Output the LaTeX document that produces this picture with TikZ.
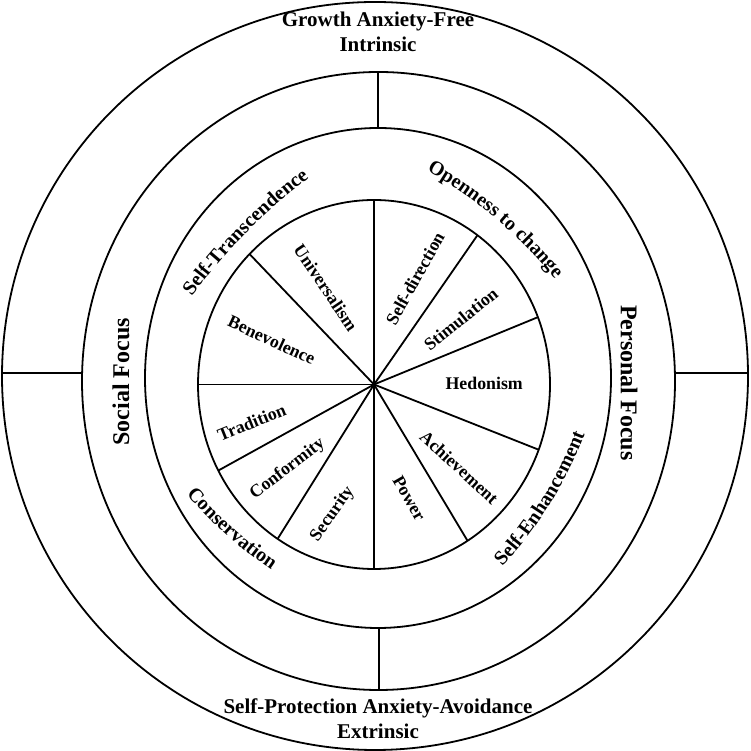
\documentclass[tikz,border=0pt]{standalone}
\usepackage{fontspec}
\setmainfont{Liberation Serif}
\usetikzlibrary{decorations.text,calc}
\newcommand\midfnt{\fontsize{20}{23}\selectfont\bfseries}
\begin{document}
\begin{tikzpicture}[x=1pt,y=1pt,
  ringline/.style={line width=1.8pt},
  inlab/.style={font=\fontsize{17.8}{20}\selectfont\bfseries, inner sep=0pt},
  outlab/.style={font=\fontsize{21}{24.5}\selectfont\bfseries, inner sep=0pt, align=center},
  focuslab/.style={font=\fontsize{24}{27}\selectfont\bfseries, inner sep=0pt},
  arclab/.style={decorate, decoration={text along path, text align=center, text={|\midfnt|#1}}}
]
\useasboundingbox (0,0) rectangle (750,751);
% rings
\draw[ringline] (375,375) ellipse [x radius=373, y radius=374];
\draw[ringline] (378.5,370) ellipse [x radius=296.5, y radius=309];
\draw[ringline] (378,373) ellipse [x radius=233, y radius=250];
\draw[ringline] (374,366.5) ellipse [x radius=176, y radius=184.5];
% dividers
\coordinate (dt1) at (378,679); \coordinate (dt2) at (378,623);
\coordinate (db1) at (379,61);  \coordinate (db2) at (379,123);
\coordinate (dl1) at (2,378);   \coordinate (dl2) at (82,378);
\coordinate (dr1) at (675,378); \coordinate (dr2) at (748,378);
\draw[ringline] (dt1) -- (dt2);
\draw[ringline] (db1) -- (db2);
\draw[ringline] (dl1) -- (dl2);
\draw[ringline] (dr1) -- (dr2);
% sectors
\coordinate (C) at (374,366.5);
\foreach \t in {90,54,21.4,-20.7,-57.9,-90,-123.2,-152.2,180,135}
  \draw[ringline] (C) -- ($(C)+({176*cos(\t)},{184.5*sin(\t)})$);
% inner labels
\node[inlab, rotate=-56]   (univ) at (325.8,463.5) {Universalism};
\node[inlab, rotate=-24.8] (bene) at (271.7,411) {Benevolence};
\node[inlab, rotate=61]    (sdir) at (415,472.7) {Self-direction};
\node[inlab, rotate=39]    (stim) at (460.8,431.8) {Stimulation};
\node[inlab]               (hedo) at (484.2,367.7) {Hedonism};
\node[inlab, rotate=-42.4] (achi) at (459.2,283.5) {Achievement};
\node[inlab, rotate=-60]   (powr) at (409.2,252.7) {Power};
\node[inlab, rotate=55]    (secu) at (332.5,236.8) {Security};
\node[inlab, rotate=37.5]  (conf) at (287.5,281.8) {Conformity};
\node[inlab, rotate=22]    (trad) at (251.7,328.5) {Tradition};
% middle ring labels (baseline midpoints)
\coordinate (bOpen) at (496,532);
\coordinate (bTran) at (246,518);
\coordinate (bEnh)  at (549.8,246.6);
\coordinate (bCons) at (226.4,216);
\path[arclab={Openness to change}]
  ($(bOpen)+({49.8+180}:450)+({49.8+14}:450)$) arc[start angle={49.8+14}, end angle={49.8-14}, radius=450];
\path[arclab={Self-Transcendence}]
  ($(bTran)+({135.4+180}:550)+({135.4+12}:550)$) arc[start angle={135.4+12}, end angle={135.4-12}, radius=550];
\path[arclab={Self-Enhancement}]
  ($(bEnh)+({-32+180}:420)+({-32-15}:420)$) arc[start angle={-32-15}, end angle={-32+15}, radius=420];
\path[arclab={Conservation}]
  ($(bCons)+({-131.8+180}:430)+({-131.8-15}:430)$) arc[start angle={-131.8-15}, end angle={-131.8+15}, radius=430];
% focus labels
\node[focuslab, rotate=90]  (social)   at (121,369) {Social Focus};
\node[focuslab, rotate=-90] (personal) at (629,368) {Personal Focus};
% outer labels
\node[outlab] (growth) at (378,719) {Growth Anxiety-Free\\Intrinsic};
\node[outlab] (protect) at (378,32.5) {Self-Protection Anxiety-Avoidance\\Extrinsic};
\end{tikzpicture}
\end{document}
